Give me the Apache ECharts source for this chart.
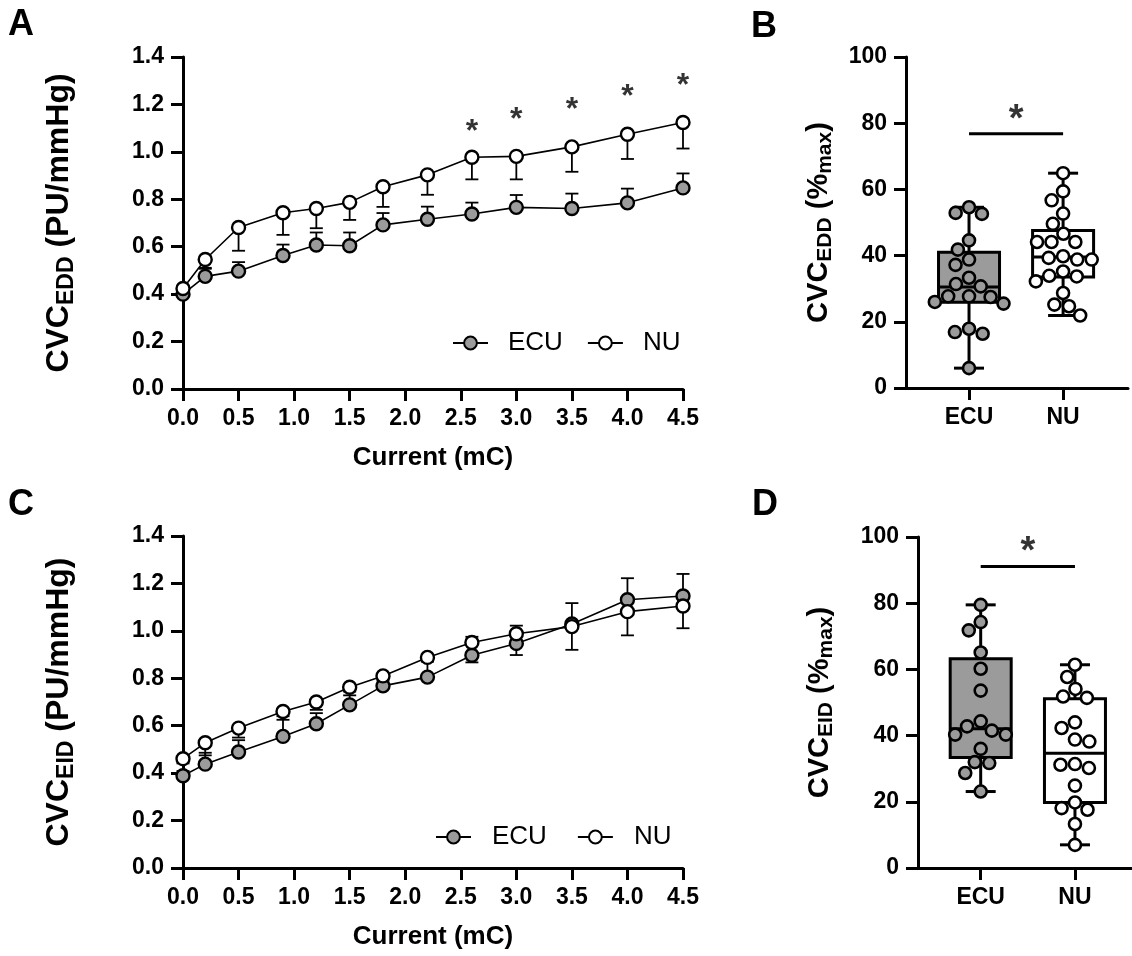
<!DOCTYPE html>
<html>
<head>
<meta charset="utf-8">
<script src="https://cdn.jsdelivr.net/npm/echarts@6/dist/echarts.min.js"></script>
<style>
  html, body { margin: 0; padding: 0; background: #fff; }
  #chart { width: 1132px; height: 956px; }
</style>
</head>
<body>
<div id="chart"></div>
<script>
// stimulation currents (mC)
const currents = [0, 0.2, 0.5, 0.9, 1.2, 1.5, 1.8, 2.2, 2.6, 3.0, 3.5, 4.0, 4.5];

// panel A: CVC EDD, mean and SEM
const ecuEDD = [0.40, 0.475, 0.497, 0.563, 0.607, 0.604, 0.692, 0.716, 0.738, 0.766, 0.761, 0.785, 0.848];
const ecuEDDSem = [0.01, 0.032, 0.038, 0.046, 0.053, 0.056, 0.05, 0.053, 0.048, 0.052, 0.063, 0.06, 0.061];
const nuEDD = [0.424, 0.546, 0.681, 0.743, 0.761, 0.787, 0.853, 0.903, 0.977, 0.981, 1.021, 1.074, 1.124];
const nuEDDSem = [0.01, 0.035, 0.098, 0.093, 0.083, 0.074, 0.085, 0.084, 0.093, 0.097, 0.105, 0.104, 0.11];
const starCurrents = [2.6, 3.0, 3.5, 4.0, 4.5];
const starLevelsEDD = [1.112, 1.161, 1.204, 1.257, 1.306];

// panel C: CVC EID, mean and SEM
const ecuEID = [0.389, 0.438, 0.489, 0.555, 0.608, 0.688, 0.768, 0.805, 0.897, 0.947, 1.029, 1.131, 1.147];
const ecuEIDSem = [0.02, 0.048, 0.05, 0.07, 0.045, 0.04, 0.03, 0.065, 0.078, 0.075, 0.088, 0.091, 0.093];
const nuEID = [0.461, 0.528, 0.59, 0.66, 0.70, 0.762, 0.81, 0.888, 0.951, 0.988, 1.018, 1.081, 1.105];
const nuEIDSem = [0.02, 0.053, 0.04, 0.02, 0.033, 0.018, 0.02, 0.015, 0.084, 0.09, 0.098, 0.10, 0.094];

// panels B and D: individual %max values
const groups = ['ECU', 'NU'];
const ecuEDDpct = [54.6, 52.9, 52.6, 44.6, 41.8, 38.8, 37.2, 33.3, 30.7, 31.4, 27.7, 27.7, 27.5, 25.5, 26.0, 17.9, 16.9, 16.4, 6.0];
const nuEDDpct = [64.9, 59.4, 56.7, 52.7, 49.6, 46.6, 44.1, 44.1, 44.1, 38.8, 38.8, 39.3, 39.8, 33.9, 33.7, 35.2, 32.2, 28.7, 25.2, 24.7, 21.9];
// [min, q1, median, q3, max]
const boxEDD = [[6.0, 25.9, 30.5, 41.0, 54.6], [21.9, 33.5, 39.6, 47.6, 64.9]];
const sigBarEDD = 76.8;
const sigStarEDD = 83.1;

const ecuEIDpct = [79.5, 74.3, 71.8, 65.1, 60.2, 53.6, 44.3, 42.8, 41.5, 40.3, 40.3, 36.0, 31.7, 32.0, 28.7, 23.1];
const nuEIDpct = [61.4, 57.7, 54.1, 51.4, 51.8, 44.0, 42.3, 38.8, 38.2, 31.2, 31.4, 30.2, 24.9, 19.8, 18.1, 17.6, 13.3, 7.0];
const boxEID = [[23.1, 33.4, 42.1, 63.2, 79.5], [7.0, 19.8, 34.7, 51.1, 61.4]];
const sigBarEID = 91.1;
const sigStarEID = 97.7;

const FONT = "'Liberation Sans', Arial, Helvetica, sans-serif";
const GREY = '#9b9b9b';

const gridA = { left: 183, top: 57, width: 500, height: 332 };
const gridB = { left: 906, top: 57, width: 222, height: 331 };
const gridC = { left: 183, top: 536, width: 500, height: 332 };
const gridD = { left: 918, top: 537, width: 214, height: 331 };
const rangeB = [-0.67, 1.69];
const rangeD = [-0.665, 1.605];

// simple beeswarm: spread overlapping dots sideways
function swarm(values, gx, grid, range, d) {
  const sx = grid.width / (range[1] - range[0]);
  const sy = grid.height / 100;
  const order = values.map((v, i) => i).sort((a, b) => values[b] - values[a]);
  const placed = [];
  const out = new Array(values.length);
  order.forEach(i => {
    const y = values[i] * sy;
    const cands = [0];
    placed.forEach(p => {
      const dy = Math.abs(p.y - y);
      if (dy < d) {
        const h = Math.sqrt(d * d - dy * dy);
        cands.push(p.x - h, p.x + h);
      }
    });
    cands.sort((a, b) => Math.abs(a) - Math.abs(b) || a - b);
    const x = cands.find(c => placed.every(p => (p.x - c) ** 2 + (p.y - y) ** 2 >= d * d - 0.01));
    placed.push({ x: x, y: y });
    out[i] = [gx + x / sx, values[i]];
  });
  return out;
}

function errorBars(dir) {
  return function (params, api) {
    const x = api.value(0), m = api.value(1), e = api.value(2);
    const p0 = api.coord([x, m]);
    const p1 = api.coord([x, m + dir * e]);
    const st = { stroke: '#000', lineWidth: 1.8 };
    return {
      type: 'group',
      children: [
        { type: 'line', shape: { x1: p0[0], y1: p0[1], x2: p1[0], y2: p1[1] }, style: st },
        { type: 'line', shape: { x1: p1[0] - 6.5, y1: p1[1], x2: p1[0] + 6.5, y2: p1[1] }, style: st }
      ]
    };
  };
}

const boxFill = [GREY, '#fff'];
function renderBox(params, api) {
  const x = api.value(0);
  const lo = api.coord([x, api.value(1)]);
  const q1 = api.coord([x, api.value(2)]);
  const md = api.coord([x, api.value(3)]);
  const q3 = api.coord([x, api.value(4)]);
  const hi = api.coord([x, api.value(5)]);
  const w = 61, cw = 15;
  const st = { stroke: '#000', lineWidth: 3 };
  return {
    type: 'group',
    children: [
      { type: 'line', shape: { x1: lo[0], y1: lo[1], x2: hi[0], y2: hi[1] }, style: st },
      { type: 'line', shape: { x1: lo[0] - cw, y1: lo[1], x2: lo[0] + cw, y2: lo[1] }, style: st },
      { type: 'line', shape: { x1: hi[0] - cw, y1: hi[1], x2: hi[0] + cw, y2: hi[1] }, style: st },
      { type: 'rect', shape: { x: q3[0] - w / 2, y: q3[1], width: w, height: q1[1] - q3[1] },
        style: { fill: boxFill[params.dataIndex], stroke: '#000', lineWidth: 3 } },
      { type: 'line', shape: { x1: md[0] - w / 2, y1: md[1], x2: md[0] + w / 2, y2: md[1] }, style: st }
    ]
  };
}

const axisLine = { onZero: false, lineStyle: { color: '#000', width: 3 } };
const axisTick = { length: 12, lineStyle: { color: '#000', width: 3 } };
const tickFont = { color: '#000', fontSize: 23, fontWeight: 'bold', fontFamily: FONT };

function curveX(gi) {
  return {
    type: 'value', gridIndex: gi, min: 0, max: 4.5, interval: 0.5,
    axisLine: axisLine, axisTick: axisTick, splitLine: { show: false },
    axisLabel: Object.assign({ margin: 18, formatter: v => v.toFixed(1) }, tickFont),
    name: 'Current (mC)', nameLocation: 'middle', nameGap: 56,
    nameTextStyle: { color: '#000', fontSize: 26, fontWeight: 'bold', fontFamily: FONT }
  };
}
function curveY(gi, sub) {
  return {
    type: 'value', gridIndex: gi, min: 0, max: 1.4, interval: 0.2,
    axisLine: axisLine, axisTick: axisTick, splitLine: { show: false },
    axisLabel: Object.assign({ margin: 19, formatter: v => v.toFixed(1) }, tickFont),
    name: '{m|CVC}{s|' + sub + '}{m| (PU/mmHg)}', nameLocation: 'middle', nameRotate: 90, nameGap: 108,
    nameTextStyle: {
      rich: {
        m: { fontSize: 32, fontWeight: 'bold', fontFamily: FONT, color: '#000', verticalAlign: 'bottom', lineHeight: 34 },
        s: { fontSize: 23, fontWeight: 'bold', fontFamily: FONT, color: '#000', verticalAlign: 'bottom', lineHeight: 34, padding: [0, 0, -3, 0] }
      }
    }
  };
}
function groupX(gi, range) {
  return {
    type: 'value', gridIndex: gi, min: range[0], max: range[1],
    axisLine: axisLine, splitLine: { show: false },
    axisTick: Object.assign({ customValues: [0, 1] }, axisTick),
    axisLabel: Object.assign({ customValues: [0, 1], margin: 18, formatter: v => groups[Math.round(v)] }, tickFont)
  };
}
function pctY(gi, sub, gap) {
  return {
    type: 'value', gridIndex: gi, min: 0, max: 100, interval: 20,
    axisLine: axisLine, axisTick: axisTick, splitLine: { show: false },
    axisLabel: Object.assign({ margin: 19 }, tickFont),
    name: '{m|CVC}{s|' + sub + '}{m| (%}{s|max}{m|)}', nameLocation: 'middle', nameRotate: 90, nameGap: gap,
    nameTextStyle: {
      rich: {
        m: { fontSize: 29, fontWeight: 'bold', fontFamily: FONT, color: '#000', verticalAlign: 'bottom', lineHeight: 31 },
        s: { fontSize: 21, fontWeight: 'bold', fontFamily: FONT, color: '#000', verticalAlign: 'bottom', lineHeight: 31, padding: [0, 0, -3, 0] }
      }
    }
  };
}

function curveSeries(axis, ecu, ecuSem, nu, nuSem) {
  const lineStyle = { color: '#000', width: 1.6 };
  return [
    { type: 'custom', xAxisIndex: axis, yAxisIndex: axis, renderItem: errorBars(1), z: 1,
      data: currents.map((c, i) => [c, ecu[i], ecuSem[i]]) },
    { type: 'custom', xAxisIndex: axis, yAxisIndex: axis, renderItem: errorBars(-1), z: 1,
      data: currents.map((c, i) => [c, nu[i], nuSem[i]]) },
    { type: 'line', name: 'ECU', xAxisIndex: axis, yAxisIndex: axis, z: 3,
      data: currents.map((c, i) => [c, ecu[i]]),
      symbol: 'circle', symbolSize: 13, showAllSymbol: true, lineStyle: lineStyle,
      itemStyle: { color: GREY, borderColor: '#000', borderWidth: 2.4 } },
    { type: 'line', name: 'NU', xAxisIndex: axis, yAxisIndex: axis, z: 4,
      data: currents.map((c, i) => [c, nu[i]]),
      symbol: 'circle', symbolSize: 13, showAllSymbol: true, lineStyle: lineStyle,
      itemStyle: { color: '#fff', borderColor: '#000', borderWidth: 2.4 } }
  ];
}

function starSeries(axis, pts, size, weight) {
  return {
    type: 'scatter', xAxisIndex: axis, yAxisIndex: axis, data: pts, symbolSize: 1, z: 5,
    itemStyle: { color: 'rgba(0,0,0,0)' }, silent: true,
    label: { show: true, position: 'inside', formatter: '*', color: '#000', fontSize: size,
      fontWeight: weight, fontFamily: FONT, offset: [0, size * 0.2] }
  };
}

function groupSeries(axis, grid, range, box, ecuPts, nuPts, bar, star) {
  return [
    { type: 'custom', xAxisIndex: axis, yAxisIndex: axis, renderItem: renderBox, z: 1,
      encode: { x: 0, y: [1, 2, 3, 4, 5] },
      data: box.map((b, i) => [i].concat(b)) },
    { type: 'scatter', xAxisIndex: axis, yAxisIndex: axis, z: 3,
      data: swarm(ecuPts, 0, grid, range, 14.5), symbolSize: 12,
      itemStyle: { color: GREY, borderColor: '#000', borderWidth: 2.6, opacity: 1 } },
    { type: 'scatter', xAxisIndex: axis, yAxisIndex: axis, z: 3,
      data: swarm(nuPts, 1, grid, range, 14.5), symbolSize: 12,
      itemStyle: { color: '#fff', borderColor: '#000', borderWidth: 2.6, opacity: 1 } },
    { type: 'line', xAxisIndex: axis, yAxisIndex: axis, z: 2, symbol: 'none',
      data: [[0, bar], [1, bar]], lineStyle: { color: '#000', width: 3 } },
    starSeries(axis, [[0.5, star]], 38, 'bold')
  ];
}

function legend(left, top, pad, gap) {
  return {
    data: ['ECU', 'NU'], left: left, top: top, orient: 'horizontal',
    itemWidth: 35, itemHeight: 16, itemGap: gap, selectedMode: false,
    textStyle: { color: '#000', fontSize: 26, fontFamily: FONT, padding: [0, 0, 0, pad] }
  };
}

function panelLetter(t, x, y) {
  return { type: 'text', left: x, top: y,
    style: { text: t, fill: '#000', font: 'bold 36px ' + FONT } };
}

const chart = echarts.init(document.getElementById('chart'), null, { renderer: 'canvas' });
chart.setOption({
  animation: false,
  backgroundColor: '#fff',
  grid: [gridA, gridB, gridC, gridD],
  xAxis: [curveX(0), groupX(1, rangeB), curveX(2), groupX(3, rangeD)],
  yAxis: [curveY(0, 'EDD'), pctY(1, 'EDD', 73), curveY(2, 'EID'), pctY(3, 'EID', 84)],
  legend: [legend(447, 325, 15, 24), legend(430, 819, 16, 30)],
  graphic: [
    panelLetter('A', 8, 7),
    panelLetter('B', 751, 9),
    panelLetter('C', 8, 487),
    panelLetter('D', 752, 487)
  ],
  series: [].concat(
    curveSeries(0, ecuEDD, ecuEDDSem, nuEDD, nuEDDSem),
    [starSeries(0, starCurrents.map((c, i) => [c, starLevelsEDD[i]]), 32, 'bold')],
    groupSeries(1, gridB, rangeB, boxEDD, ecuEDDpct, nuEDDpct, sigBarEDD, sigStarEDD),
    curveSeries(2, ecuEID, ecuEIDSem, nuEID, nuEIDSem),
    groupSeries(3, gridD, rangeD, boxEID, ecuEIDpct, nuEIDpct, sigBarEID, sigStarEID)
  )
});
</script>
</body>
</html>
